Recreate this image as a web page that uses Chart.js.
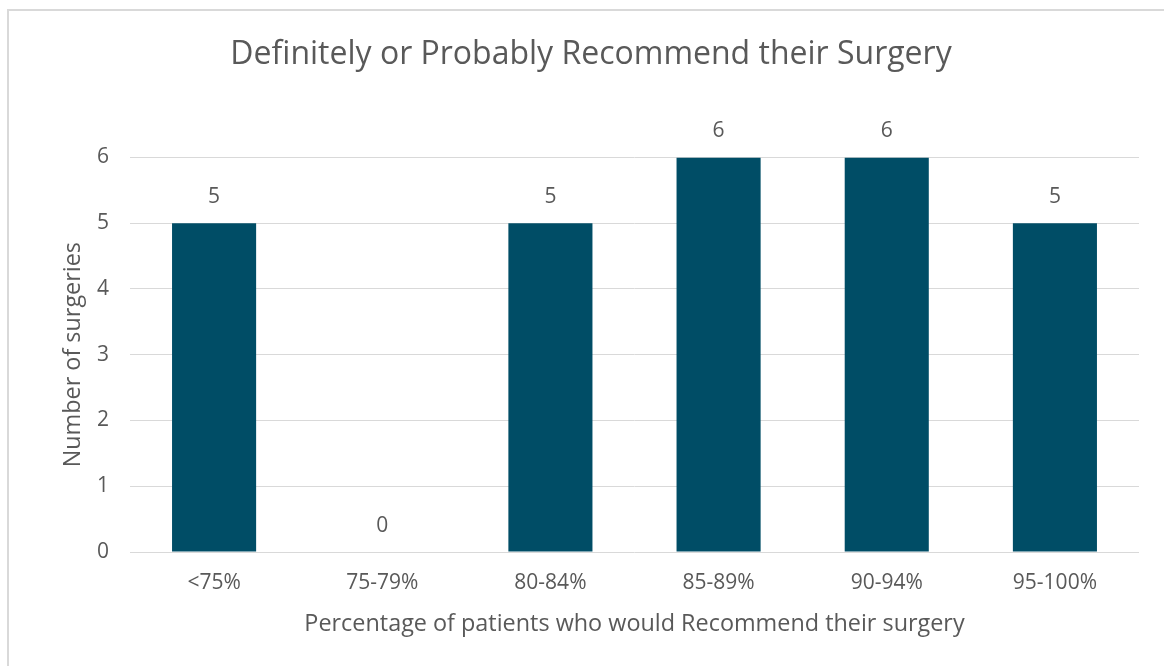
<!DOCTYPE html>
<html>
<head>
<meta charset="utf-8">
<script src="https://cdn.jsdelivr.net/npm/chart.js@4/dist/chart.umd.min.js"></script>
<style>
  html, body { margin: 0; padding: 0; background: #ffffff; overflow: hidden; }
  #frame { position: absolute; left: 7px; top: 9px; width: 1200px; height: 700px; border: 2px solid #d9d9d9; }
  #chart { position: absolute; left: 0; top: 0; }
</style>
</head>
<body>
<div id="frame"></div>
<canvas id="chart" width="1164" height="666"></canvas>
<script>
// Satisfaction bands and how many surgeries fall in each
const categories = ['<75%', '75-79%', '80-84%', '85-89%', '90-94%', '95-100%'];
const surgeryCounts = [5, 0, 5, 6, 6, 5];
const yTicks = [0, 1, 2, 3, 4, 5, 6];

const textColor = '#595959';
const fontFamily = '"Open Sans", "Noto Sans", sans-serif';

// Writes each bar's value just above its top
const valueLabels = {
  id: 'valueLabels',
  afterDatasetsDraw(chart) {
    const ctx = chart.ctx;
    ctx.save();
    ctx.font = '21px ' + fontFamily;
    ctx.fillStyle = textColor;
    ctx.textAlign = 'center';
    ctx.textBaseline = 'middle';
    chart.getDatasetMeta(0).data.forEach((bar, i) => {
      ctx.fillText(String(surgeryCounts[i]), bar.x, bar.y - 26);
    });
    ctx.restore();
  }
};

new Chart(document.getElementById('chart'), {
  type: 'bar',
  data: {
    labels: categories,
    datasets: [{
      data: surgeryCounts,
      backgroundColor: '#004d66',
      barPercentage: 0.5,
      categoryPercentage: 1.0
    }]
  },
  options: {
    responsive: false,
    devicePixelRatio: 1,
    animation: false,
    layout: { padding: { left: 43, right: 25, top: 0, bottom: 0 } },
    plugins: {
      legend: { display: false },
      tooltip: { enabled: false },
      title: {
        display: true,
        text: 'Definitely or Probably Recommend their Surgery',
        color: textColor,
        font: { family: fontFamily, size: 32, weight: 'normal', lineHeight: 1.2 },
        padding: { top: 36, bottom: 83 }
      }
    },
    scales: {
      x: {
        grid: { display: false, drawTicks: false },
        border: { display: false },
        ticks: { color: textColor, font: { family: fontFamily, size: 21 }, padding: 18 },
        title: {
          display: true,
          text: 'Percentage of patients who would Recommend their surgery',
          color: textColor,
          font: { family: fontFamily, size: 23.4, lineHeight: 1.2 },
          padding: { top: 0, bottom: 28 }
        },
        afterFit(scale) { scale.height = 114; }
      },
      y: {
        min: 0,
        max: 6,
        grid: { color: '#d9d9d9', lineWidth: 1, drawTicks: false },
        border: { display: false },
        afterBuildTicks(scale) { scale.ticks = yTicks.map(v => ({ value: v })); },
        ticks: { color: textColor, font: { family: fontFamily, size: 21 }, padding: 21 },
        title: {
          display: true,
          text: 'Number of surgeries',
          color: textColor,
          font: { family: fontFamily, size: 23.4, lineHeight: 1.2 },
          padding: { top: 16, bottom: 0 }
        },
        afterFit(scale) { scale.width = 87; }
      }
    }
  },
  plugins: [valueLabels]
});
</script>
</body>
</html>
